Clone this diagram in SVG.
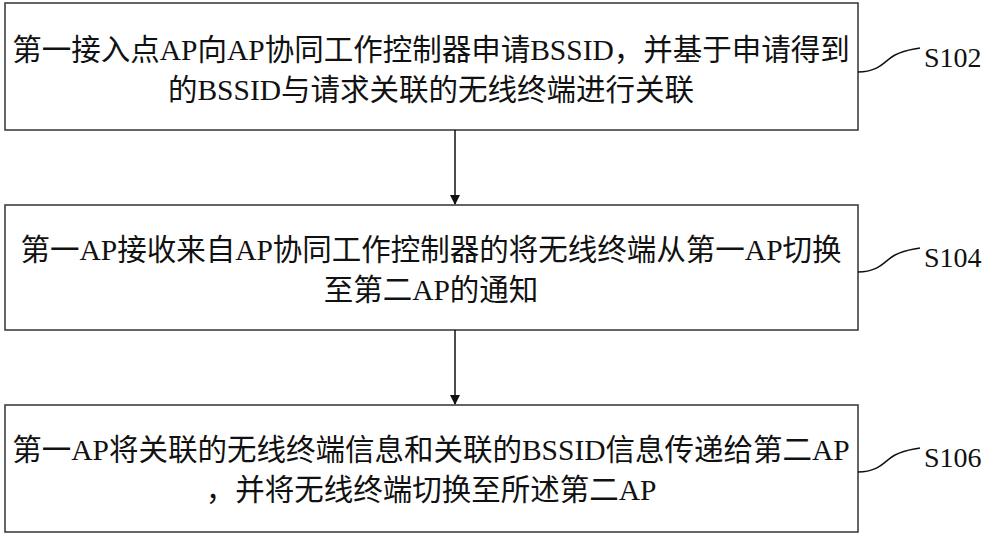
<svg xmlns="http://www.w3.org/2000/svg" width="1000" height="536" viewBox="0 0 1000 536">
<style>
.b{fill:#fff;stroke:#333;stroke-width:1.5}
.t{font-family:"Liberation Serif","Noto Sans CJK SC",serif;font-size:29.5px;fill:#111;text-anchor:middle}
.l{font-family:"Liberation Serif",serif;font-size:28px;fill:#111}
.c{fill:none;stroke:#111;stroke-width:1.5}
</style>
<defs><marker id="a" markerWidth="10" markerHeight="10" refX="9" refY="5" orient="auto" markerUnits="userSpaceOnUse"><path d="M0,0L10,5L0,10z" fill="#111"/></marker></defs>
<rect width="1000" height="536" fill="#fff"/>
<g id="n1"><rect class="b" x="5" y="3" width="853" height="127"/>
<text class="t" x="431" y="60">第一接入点AP向AP协同工作控制器申请BSSID，并基于申请得到</text>
<text class="t" x="431" y="100">的BSSID与请求关联的无线终端进行关联</text></g>
<g id="n2"><rect class="b" x="5" y="205" width="853" height="125"/>
<text class="t" x="431" y="260">第一AP接收来自AP协同工作控制器的将无线终端从第一AP切换</text>
<text class="t" x="431" y="300">至第二AP的通知</text></g>
<g id="n3"><rect class="b" x="5" y="405" width="853" height="127"/>
<text class="t" x="431" y="460">第一AP将关联的无线终端信息和关联的BSSID信息传递给第二AP</text>
<text class="t" x="431" y="500">，并将无线终端切换至所述第二AP</text></g>
<g id="connectors">
<line class="c" x1="455" y1="130" x2="455" y2="204" marker-end="url(#a)"/>
<line class="c" x1="455" y1="330" x2="455" y2="404" marker-end="url(#a)"/>
<path class="c" d="M858,72 C880,72 885,60 895,55 C905,50 910,50 920,48"/>
<path class="c" d="M858,272 C880,272 885,260 895,255 C905,250 910,250 920,248"/>
<path class="c" d="M858,472 C880,472 885,460 895,455 C905,450 910,450 920,448"/>
</g>
<g id="labels">
<text class="l" x="924" y="67">S102</text>
<text class="l" x="924" y="267">S104</text>
<text class="l" x="924" y="467">S106</text>
</g>
</svg>
